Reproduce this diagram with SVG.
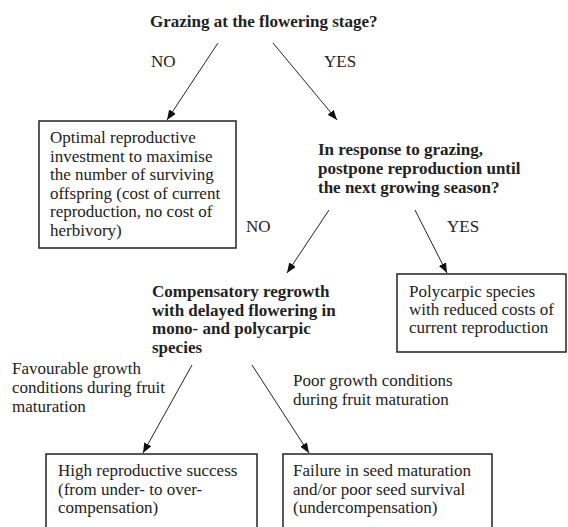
<svg xmlns="http://www.w3.org/2000/svg" width="568" height="527" viewBox="0 0 568 527">
<defs>
<style>
text{font-family:'Liberation Serif','Times New Roman',Times,serif;font-size:17px;fill:#222}
.b{font-weight:bold}
.box{fill:#fff;stroke:#222;stroke-width:1.5}
.c{stroke:#222;stroke-width:1;fill:none}
</style>
<marker id="ah" markerWidth="10" markerHeight="8" refX="10" refY="4" orient="auto" markerUnits="userSpaceOnUse">
<path d="M0,0 L10,4 L0,8 z" fill="#111"/>
</marker>
</defs>
<rect width="568" height="527" fill="#fff"/>
<g id="connectors">
<line class="c" x1="218" y1="43" x2="167" y2="120" marker-end="url(#ah)"/>
<line class="c" x1="273" y1="43" x2="337" y2="120" marker-end="url(#ah)"/>
<line class="c" x1="329" y1="210" x2="287" y2="273" marker-end="url(#ah)"/>
<line class="c" x1="415" y1="210" x2="447" y2="273" marker-end="url(#ah)"/>
<line class="c" x1="192" y1="365" x2="143" y2="453" marker-end="url(#ah)"/>
<line class="c" x1="252" y1="365" x2="309" y2="453" marker-end="url(#ah)"/>
<text x="151" y="67">NO</text>
<text x="324" y="67">YES</text>
<text x="246" y="232">NO</text>
<text x="447" y="232">YES</text>
<text x="12" y="374">Favourable growth</text>
<text x="12" y="393">conditions during fruit</text>
<text x="12" y="412">maturation</text>
<text x="293" y="386">Poor growth conditions</text>
<text x="293" y="405">during fruit maturation</text>
</g>
<g id="q1">
<text class="b" x="150" y="27">Grazing at the flowering stage?</text>
</g>
<g id="optimal">
<rect class="box" x="39" y="121" width="197" height="127"/>
<text x="50" y="143">Optimal reproductive</text>
<text x="50" y="161.5">investment to maximise</text>
<text x="50" y="180">the number of surviving</text>
<text x="50" y="198.5">offspring (cost of current</text>
<text x="50" y="217">reproduction, no cost of</text>
<text x="50" y="235.5">herbivory)</text>
</g>
<g id="q2">
<text class="b" x="318" y="155">In response to grazing,</text>
<text class="b" x="318" y="174">postpone reproduction until</text>
<text class="b" x="318" y="193">the next growing season?</text>
</g>
<g id="polycarpic">
<rect class="box" x="397" y="274" width="169" height="78"/>
<text x="409" y="297">Polycarpic species</text>
<text x="409" y="315">with reduced costs of</text>
<text x="409" y="333">current reproduction</text>
</g>
<g id="compensatory">
<text class="b" x="152" y="297">Compensatory regrowth</text>
<text class="b" x="152" y="315.5">with delayed flowering in</text>
<text class="b" x="152" y="334">mono- and polycarpic</text>
<text class="b" x="152" y="352.5">species</text>
</g>
<g id="high">
<rect class="box" x="46" y="454" width="211" height="80"/>
<text x="58" y="476">High reproductive success</text>
<text x="58" y="495">(from under- to over-</text>
<text x="58" y="513">compensation)</text>
</g>
<g id="failure">
<rect class="box" x="283" y="454" width="209" height="80"/>
<text x="293" y="476">Failure in seed maturation</text>
<text x="293" y="495">and/or poor seed survival</text>
<text x="293" y="513">(undercompensation)</text>
</g>
</svg>
